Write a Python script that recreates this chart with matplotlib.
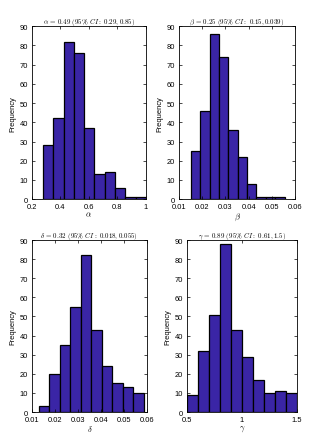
import numpy as np
import matplotlib.pyplot as plt

plt.rcParams["mathtext.fontset"] = "cm"
plt.rcParams["font.family"] = ["Liberation Sans", "DejaVu Sans"]

# histogram counts and bin ranges
alpha_counts = [28, 42, 82, 76, 37, 13, 14, 6, 1, 1]
alpha_range = (0.277, 1.0)
beta_counts = [25, 46, 86, 74, 36, 22, 8, 1, 1, 1]
beta_range = (0.0152, 0.0555)
delta_counts = [3, 20, 35, 55, 82, 43, 24, 15, 13, 10]
delta_range = (0.0129, 0.0586)
gamma_counts = [9, 32, 51, 88, 43, 29, 17, 10, 11, 10]
gamma_range = (0.5, 1.5)

panels = [
    dict(counts=alpha_counts, rng=alpha_range, xlim=(0.2, 1.0),
         xticks=[0.2, 0.4, 0.6, 0.8, 1.0], xtl=["0.2", "0.4", "0.6", "0.8", "1"],
         xlabel=r"$\alpha$",
         title=r"$\alpha\,=\,\mathbf{0.49}\ (95\%\ CI:\ 0.29, 0.85)$",
         pos=[0.100, 0.544, 0.356, 0.394]),
    dict(counts=beta_counts, rng=beta_range, xlim=(0.01, 0.06),
         xticks=[0.01, 0.02, 0.03, 0.04, 0.05, 0.06],
         xtl=["0.01", "0.02", "0.03", "0.04", "0.05", "0.06"],
         xlabel=r"$\beta$",
         title=r"$\beta\,=\,\mathbf{0.25}\ (95\%\ CI:\ 0.15, 0.039)$",
         pos=[0.559, 0.544, 0.363, 0.394]),
    dict(counts=delta_counts, rng=delta_range, xlim=(0.01, 0.06),
         xticks=[0.01, 0.02, 0.03, 0.04, 0.05, 0.06],
         xtl=["0.01", "0.02", "0.03", "0.04", "0.05", "0.06"],
         xlabel=r"$\delta$",
         title=r"$\delta\,=\,\mathbf{0.32}\ (95\%\ CI:\ 0.018, 0.055)$",
         pos=[0.100, 0.059, 0.359, 0.392]),
    dict(counts=gamma_counts, rng=gamma_range, xlim=(0.5, 1.5),
         xticks=[0.5, 1.0, 1.5], xtl=["0.5", "1", "1.5"],
         xlabel=r"$\gamma$",
         title=r"$\gamma\,=\,\mathbf{0.89}\ (95\%\ CI:\ 0.61, 1.5)$",
         pos=[0.584, 0.059, 0.344, 0.392]),
]

fig = plt.figure(figsize=(3.2, 4.39), dpi=100)

for p in panels:
    ax = fig.add_axes(p["pos"])
    edges = np.linspace(p["rng"][0], p["rng"][1], len(p["counts"]) + 1)
    ax.bar(edges[:-1], p["counts"], width=np.diff(edges), align="edge",
           color="#3a25a6", edgecolor="black", linewidth=0.9)
    ax.set_xlim(*p["xlim"])
    ax.set_ylim(0, 90)
    ax.set_yticks(range(0, 91, 10))
    ax.set_xticks(p["xticks"])
    ax.set_xticklabels(p["xtl"])
    ax.tick_params(direction="in", top=True, right=True, labelsize=5.4,
                   length=2, width=0.5)
    ax.tick_params(axis="x", pad=2.5)
    ax.tick_params(axis="y", pad=3)
    for s in ax.spines.values():
        s.set_linewidth(0.6)
    ax.set_ylabel("Frequency", fontsize=5.4, labelpad=2)
    ax.set_xlabel(p["xlabel"], fontsize=6, labelpad=0.5)
    ax.set_title(p["title"], fontsize=5, pad=2)

fig.savefig("out.png", dpi=100)
